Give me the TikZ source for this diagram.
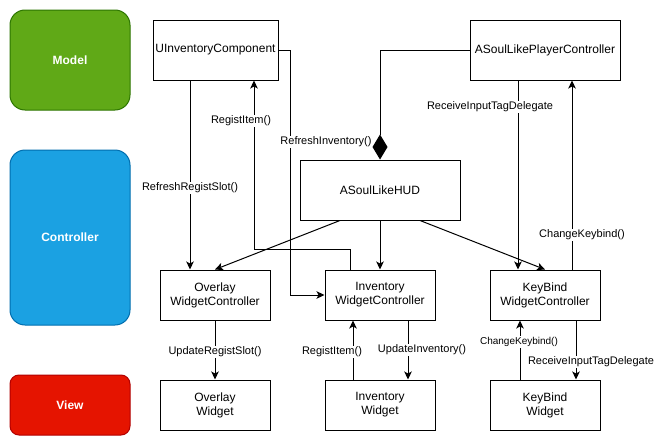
\documentclass[tikz,border=0pt]{standalone}
\usepackage{fontspec}
\setmainfont{Liberation Sans}
\usetikzlibrary{arrows.meta}
\definecolor{modelfill}{HTML}{60A917}
\definecolor{modeldraw}{HTML}{2D7600}
\definecolor{ctrlfill}{HTML}{1BA1E2}
\definecolor{ctrldraw}{HTML}{006EAF}
\definecolor{viewfill}{HTML}{E51400}
\definecolor{viewdraw}{HTML}{B20000}
\begin{document}
\begin{tikzpicture}[x=1pt,y=-1pt,
  box/.style={draw=black, line width=1pt, fill=white, inner sep=0pt, align=center,
    font=\fontsize{12}{14}\selectfont},
  layer/.style={line width=1pt, inner sep=0pt, align=center, text=white,
    minimum width=120pt, font=\fontsize{12}{14}\selectfont\bfseries},
  conn/.style={line width=1pt, draw=black},
  arr/.style={conn, -{Stealth[length=8pt,width=7.5pt,inset=2pt]}},
  diam/.style={conn, -{Turned Square[length=25pt,width=15pt]}},
  lab/.style={fill=white, inner sep=1pt, font=\fontsize{11}{13}\selectfont},
  slab/.style={fill=white, inner sep=1pt, font=\fontsize{10}{12}\selectfont}]
\useasboundingbox (0,0) rectangle (664,447);
\fill[white] (0,0) rectangle (664,447);

% layers
\node[layer, fill=modelfill, draw=modeldraw, minimum height=100pt, rounded corners=15pt] (model) at (70,60) {Model};
\node[layer, fill=ctrlfill, draw=ctrldraw, minimum height=175pt, rounded corners=15pt] (ctrl) at (70,237.5) {Controller};
\node[layer, fill=viewfill, draw=viewdraw, minimum height=60pt, rounded corners=9pt] (view) at (70,405) {View};

% model row
\node[box, minimum width=125pt, minimum height=60pt] (uic) at (215.5,50) {UInventoryComponent};
\node[box, minimum width=150pt, minimum height=60pt] (apc) at (545,50) {ASoulLikePlayerController};
\node[box, minimum width=160pt, minimum height=60pt] (hud) at (380,190) {ASoulLikeHUD};

% controllers
\node[box, minimum width=110pt, minimum height=50pt] (owc) at (215,295) {Overlay\\WidgetController};
\node[box, minimum width=110pt, minimum height=50pt] (iwc) at (380,295) {Inventory\\WidgetController};
\node[box, minimum width=110pt, minimum height=50pt] (kwc) at (545,295) {KeyBind\\WidgetController};

% widgets
\node[box, minimum width=110pt, minimum height=50pt] (ow) at (215,405) {Overlay\\Widget};
\node[box, minimum width=110pt, minimum height=50pt] (iw) at (380,405) {Inventory\\Widget};
\node[box, minimum width=110pt, minimum height=50pt] (kw) at (545,405) {KeyBind\\Widget};

% connectors
\draw[arr] ([xshift=-25.5pt]uic.south) -- ([xshift=-25pt]owc.north)
  node[lab] at (190,188) {RefreshRegistSlot()};
\draw[arr] ([xshift=-30pt]iwc.north) -- ++(0,-20) -| ([xshift=38.5pt]uic.south)
  node[lab] at (241,121) {RegistItem()};
\draw[arr] (uic.east) -| ([xshift=-34.5pt]iwc.west) -- (iwc.west)
  node[lab] at (326,142) {RefreshInventory()};
\draw[diam] (apc.west) -| (hud.north);
\draw[arr] ([xshift=-27pt]apc.south) -- ([xshift=-27pt]kwc.north)
  node[lab] at (490,107) {ReceiveInputTagDelegate};
\draw[arr] ([xshift=27pt]kwc.north) -- ([xshift=27pt]apc.south)
  node[lab] at (582,235) {ChangeKeybind()};
\draw[arr] (hud.south) -- (iwc.north);
\draw[arr] ([xshift=-40pt]hud.south) -- (owc.north);
\draw[arr] ([xshift=40pt]hud.south) -- (kwc.north);

\draw[arr] (owc.south) -- (ow.north)
  node[lab] at (215,352) {UpdateRegistSlot()};
\draw[arr] ([xshift=-27pt]iw.north) -- ([xshift=-27pt]iwc.south)
  node[lab] at (332,352) {RegistItem()};
\draw[arr] ([xshift=28pt]iwc.south) -- ([xshift=28pt]iw.north)
  node[lab] at (422,350) {UpdateInventory()};
\draw[arr] ([xshift=-25pt]kw.north) -- ([xshift=-25pt]kwc.south)
  node[slab] at (519,342) {ChangeKeybind()};
\draw[arr] ([xshift=31pt]kwc.south) -- ([xshift=31pt]kw.north)
  node[lab] at (591,362) {ReceiveInputTagDelegate};
\end{tikzpicture}
\end{document}
